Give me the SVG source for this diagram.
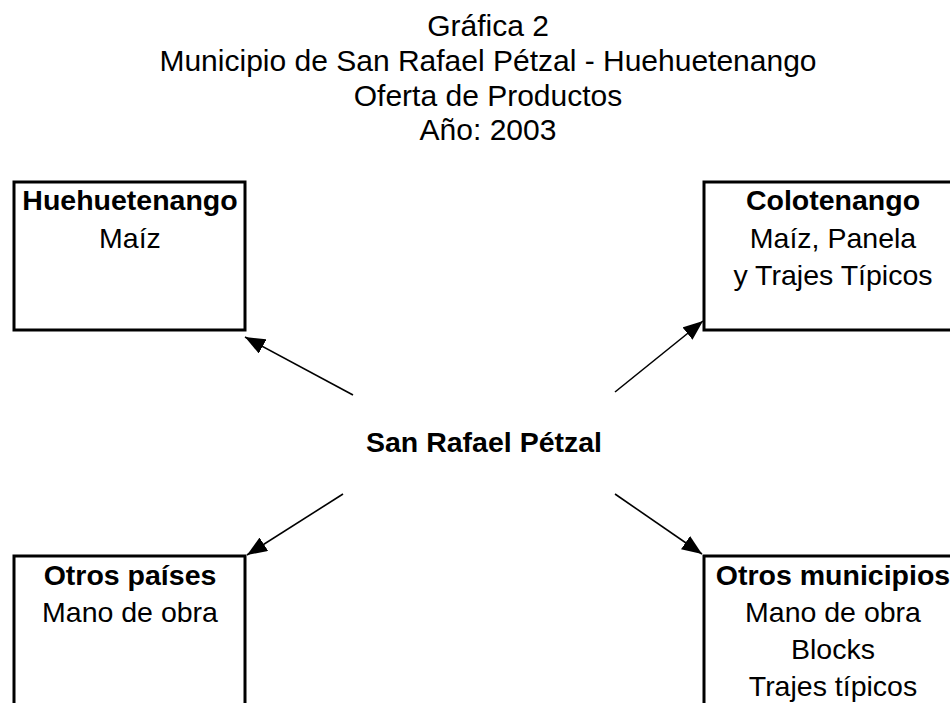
<svg xmlns="http://www.w3.org/2000/svg" width="950" height="703" viewBox="0 0 950 703">
<style>
text{font-family:"Liberation Sans",Arial,sans-serif;fill:#000;text-anchor:middle}
.t{font-size:30px}
.n{font-size:28.5px}
.b{font-weight:bold}
.box{fill:#fff;stroke:#000;stroke-width:3}
.c{stroke:#000;stroke-width:1.6;fill:none;marker-end:url(#ah)}
</style>
<defs>
<marker id="ah" markerUnits="userSpaceOnUse" viewBox="0 0 20 16" refX="20" refY="8" markerWidth="20" markerHeight="16" orient="auto">
<path d="M0,0 L20,8 L0,16 Z" fill="#000"/>
</marker>
</defs>
<rect width="950" height="703" fill="#fff"/>
<g id="title">
<text class="t" x="488" y="36">Gráfica 2</text>
<text class="t" x="488" y="71">Municipio de San Rafael Pétzal - Huehuetenango</text>
<text class="t" x="488" y="106">Oferta de Productos</text>
<text class="t" x="488" y="140">Año: 2003</text>
</g>
<g id="huehuetenango">
<rect class="box" x="14" y="182" width="231" height="148"/>
<text class="n b" x="130" y="210">Huehuetenango</text>
<text class="n" x="130" y="248">Maíz</text>
</g>
<g id="colotenango">
<rect class="box" x="704" y="182" width="260" height="148"/>
<text class="n b" x="833" y="210">Colotenango</text>
<text class="n" x="833" y="248">Maíz, Panela</text>
<text class="n" x="833" y="285">y Trajes Típicos</text>
</g>
<g id="center">
<text class="n b" x="484" y="452">San Rafael Pétzal</text>
</g>
<g id="otros-paises">
<rect class="box" x="14" y="556" width="231" height="160"/>
<text class="n b" x="130" y="585">Otros países</text>
<text class="n" x="130" y="622">Mano de obra</text>
</g>
<g id="otros-municipios">
<rect class="box" x="704" y="556" width="260" height="160"/>
<text class="n b" x="833" y="585">Otros municipios</text>
<text class="n" x="833" y="622">Mano de obra</text>
<text class="n" x="833" y="659">Blocks</text>
<text class="n" x="833" y="696">Trajes típicos</text>
</g>
<g id="connectors">
<line class="c" x1="353" y1="395" x2="245" y2="337"/>
<line class="c" x1="615" y1="392" x2="703" y2="321"/>
<line class="c" x1="343" y1="494" x2="247" y2="555"/>
<line class="c" x1="615" y1="494" x2="702" y2="554"/>
</g>
</svg>
